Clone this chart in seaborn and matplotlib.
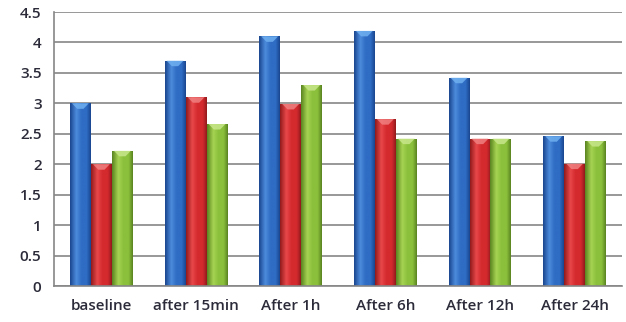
import numpy as np
import pandas as pd
import seaborn as sns
import matplotlib.pyplot as plt
from matplotlib.colors import to_rgb
from matplotlib.patches import Polygon

# values
timepoints = ["baseline", "after 15min", "After 1h", "After 6h", "After 12h", "After 24h"]
series_a = [3.0, 3.7, 4.1, 4.19, 3.42, 2.46]
series_b = [2.0, 3.1, 2.99, 2.74, 2.42, 2.01]
series_c = [2.22, 2.66, 3.3, 2.42, 2.42, 2.38]
series_names = ["A", "B", "C"]

df = pd.DataFrame({
    "time": timepoints * 3,
    "value": series_a + series_b + series_c,
    "series": [s for s in series_names for _ in timepoints],
})

# base / dark / light / cap tones for the shaded bars
tones = {
    "A": ("#2f6cc4", "#1a468f", "#4d8bdc", "#6fb0f0"),
    "B": ("#d42a2e", "#921a1c", "#e8484a", "#f08080"),
    "C": ("#8bc03c", "#5a8420", "#a6d352", "#c8e68a"),
}
palette = {k: v[0] for k, v in tones.items()}

sns.set_style("white")
plt.rcParams["font.family"] = ["Open Sans", "DejaVu Sans"]

fig = plt.figure(figsize=(6.26, 3.22), dpi=100)
ax = fig.add_axes([0.0863, 0.1118, 0.9073, 0.8509])

sns.barplot(data=df, x="time", y="value", hue="series", palette=palette,
            width=0.665, gap=0, ax=ax, legend=False, zorder=2,
            edgecolor="none", linewidth=0)


def shade(base, dark, light, n=64):
    base, dark, light = map(np.array, map(to_rgb, (base, dark, light)))
    out = np.zeros((1, n, 3))
    for i, u in enumerate(np.linspace(0, 1, n)):
        if u < 0.3:
            k = u / 0.3
            c = dark * (1 - k) + light * k
        elif u < 0.55:
            k = (u - 0.3) / 0.25
            c = light * (1 - k) + base * k
        elif u < 0.8:
            c = base
        else:
            k = (u - 0.8) / 0.2
            c = base * (1 - k) + dark * k
        out[0, i] = c
    return out


# overlay a horizontal gradient and a light top bevel on each bar
for container, name in zip(ax.containers, series_names):
    base, dark, light, cap = tones[name]
    grad = shade(base, dark, light)
    for bar in container:
        x, w, h = bar.get_x(), bar.get_width(), bar.get_height()
        im = ax.imshow(grad, extent=[x, x + w, 0, h], aspect="auto",
                       zorder=2.5, interpolation="bilinear")
        im.set_clip_path(bar)
        d = 0.09
        ax.add_patch(Polygon([(x + 0.1 * w, h), (x + 0.9 * w, h),
                              (x + 0.65 * w, h - d), (x + 0.35 * w, h - d)],
                             closed=True, facecolor=cap, edgecolor="none",
                             alpha=0.85, zorder=2.6))

ax.set_xlim(-0.5, len(timepoints) - 0.5)
ax.set_ylim(0, 4.5)
ax.set_yticks(np.arange(0, 4.51, 0.5))
ax.set_yticklabels(["0", "0.5", "1", "1.5", "2", "2.5", "3", "3.5", "4", "4.5"])
ax.grid(axis="y", color="#868686", linewidth=1.2, zorder=0)
ax.set_axisbelow(True)
ax.set_xlabel("")
ax.set_ylabel("")

for side in ["top", "right"]:
    ax.spines[side].set_visible(False)
for side in ["left", "bottom"]:
    ax.spines[side].set_color("#868686")
    ax.spines[side].set_linewidth(1.2)

ax.tick_params(axis="both", length=0, labelsize=11, colors="#2b2b3a")
for lbl in ax.get_xticklabels() + ax.get_yticklabels():
    lbl.set_fontweight("semibold")
ax.tick_params(axis="y", pad=9)
ax.tick_params(axis="x", pad=9)

fig.savefig("out.png", dpi=100)
